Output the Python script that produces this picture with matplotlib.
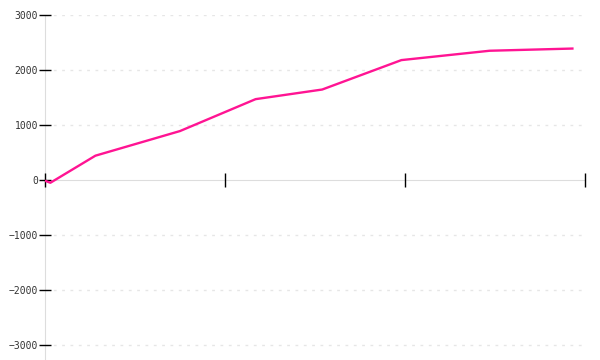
import numpy as np
import matplotlib
matplotlib.use('Agg')
import matplotlib.pyplot as plt

# Datos
x = [0.005, 0.03, 0.28, 0.75, 1.17, 1.54, 1.98, 2.47, 2.93]
y = [-20, -50, 442, 890, 1470, 1645, 2180, 2350, 2390]

y_ticks = [-3000, -2000, -1000, 0, 1000, 2000, 3000]
x_ticks = [0, 1, 2, 3]

fig = plt.figure(figsize=(6, 3.6), dpi=100)
ax = fig.add_axes([45 / 600, 0, 540 / 600, 345 / 360])

ax.plot(x, y, color='#ff1493', linewidth=1.7, solid_joinstyle='round', zorder=3)

ax.set_xlim(0, 3)
ax.set_ylim(-3000 - 15 / 55 * 1000, 3000)

ax.set_yticks(y_ticks)
ax.set_yticklabels([str(v).replace('-', '\u2212') for v in y_ticks],
                   family='DejaVu Sans Mono', fontsize=7, color='#333333')
ax.set_xticks(x_ticks)
ax.set_xticklabels([])

# Rejilla punteada
for v in y_ticks:
    if v != 0:
        ax.axhline(v, color='#e6e6e6', linewidth=1, linestyle=(0, (2, 4)), zorder=1)

for s in ['top', 'right']:
    ax.spines[s].set_visible(False)
ax.spines['left'].set_color('#dddddd')
ax.spines['left'].set_zorder(0.5)
ax.spines['bottom'].set_position(('data', 0))
ax.spines['bottom'].set_color('#dddddd')
ax.spines['bottom'].set_zorder(0.5)

ax.tick_params(axis='y', direction='inout', length=9, width=1, color='black', pad=0.5)
ax.tick_params(axis='x', direction='inout', length=10, width=1, color='black')
for t in ax.xaxis.get_major_ticks():
    t.tick1line.set_clip_on(False)

fig.savefig('out.png', dpi=100)
